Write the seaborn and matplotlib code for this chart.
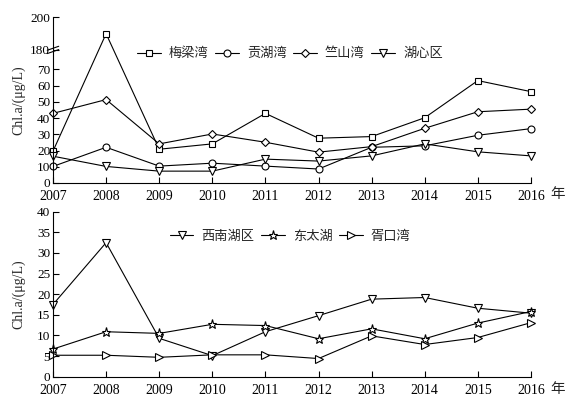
import numpy as np
import pandas as pd
import matplotlib
matplotlib.use("Agg")
import matplotlib.pyplot as plt
import seaborn as sns

# -----------------------------
# STYLE
# -----------------------------
sns.set_theme(style="ticks")
plt.rcParams['font.family'] = ['Liberation Serif', 'Noto Sans CJK SC']
plt.rcParams['font.size'] = 10
plt.rcParams['axes.unicode_minus'] = False

# -----------------------------
# DATA
# -----------------------------
years = list(range(2007, 2017))

meiliang = [19.6, 190, 20.8, 24.1, 42.9, 27.6, 28.6, 40.2, 63.1, 56.3]
gonghu = [10.2, 22.0, 10.4, 12.2, 10.4, 8.6, 22.0, 22.9, 29.4, 33.5]
zhushan = [42.9, 51.4, 24.1, 30.2, 25.1, 19.0, 22.4, 33.7, 43.9, 45.5]
huxin = [16.5, 10.2, 7.3, 7.3, 14.7, 13.5, 16.7, 24.1, 19.2, 16.7]

xinan = [17.5, 32.5, 9.3, 5.1, 10.9, 14.8, 18.8, 19.2, 16.6, 15.4]
dongtai = [6.7, 10.9, 10.5, 12.7, 12.4, 9.2, 11.6, 9.2, 13.0, 15.8]
xukou = [5.2, 5.2, 4.7, 5.3, 5.3, 4.4, 9.9, 7.8, 9.5, 13.1]

top_names = ["梅梁湾", "贡湖湾", "竺山湾", "湖心区"]
top_markers = ["s", "o", "D", "v"]
bot_names = ["西南湖区", "东太湖", "胥口湾"]
bot_markers = ["v", "*", ">"]

top_yticks = [0, 10, 20, 30, 40, 50, 60, 70, 180, 200]
bot_yticks = [0, 5, 10, 15, 20, 25, 30, 35, 40]


# broken axis: squeeze 70..180 into a short stretch
def fwd(y):
    y = np.asarray(y, dtype=float)
    return np.where(y <= 70, y,
                    np.where(y < 180, 70 + (y - 70) * 12 / 110, 82 + (y - 180)))


def inv(y):
    y = np.asarray(y, dtype=float)
    return np.where(y <= 70, y,
                    np.where(y < 82, 70 + (y - 70) * 110 / 12, 180 + (y - 82)))


def draw_panel(ax, names, series, markers):
    for name, vals, m in zip(names, series, markers):
        ms = {"*": 6.5, "D": 4.2, "s": 4.5, "o": 5}.get(m, 5.5)
        sns.lineplot(x=years, y=vals, ax=ax, color="black", linewidth=0.8,
                     marker=m, markersize=ms, markerfacecolor="white",
                     markeredgecolor="black", markeredgewidth=0.8,
                     label=name, clip_on=False)
    ax.set_xlim(2007, 2016)
    ax.set_xticks(years)
    ax.tick_params(direction="in", length=4, width=0.8, pad=2, colors="black")
    ax.tick_params(axis="x", pad=5, labelsize=10)
    ax.tick_params(axis="y", labelsize=9.5)
    for s in ["top", "right"]:
        ax.spines[s].set_visible(False)
    for s in ["left", "bottom"]:
        ax.spines[s].set_linewidth(0.8)
        ax.spines[s].set_color("black")
    ax.set_ylabel("Chl.a/(μg/L)", fontsize=10)
    ax.yaxis.set_label_coords(-0.058, 0.5)
    ax.set_xlabel("")


fig = plt.figure(figsize=(5.71, 3.99), dpi=100)
ax1 = fig.add_axes([0.0928, 0.5414, 0.837, 0.4148])
ax2 = fig.add_axes([0.0928, 0.0559, 0.837, 0.4135])

# top panel
draw_panel(ax1, top_names, [meiliang, gonghu, zhushan, huxin], top_markers)
ax1.set_yscale("function", functions=(fwd, inv))
ax1.set_ylim(0, 200)
ax1.set_yticks(top_yticks)
ax1.set_yticklabels([str(t) for t in top_yticks])
ax1.legend(ncol=4, frameon=False, loc="center", bbox_to_anchor=(0.496, 0.78),
           fontsize=9.5, handlelength=1.8, handletextpad=0.6, columnspacing=0.5,
           borderaxespad=0)

# break marks on the y axis at 180
yb = 82 / 102
for dy in (-0.01, 0.01):
    ax1.plot([-0.012, 0.012], [yb + dy - 0.012, yb + dy + 0.012],
             transform=ax1.transAxes, color="black", lw=0.8, clip_on=False)

# bottom panel
draw_panel(ax2, bot_names, [xinan, dongtai, xukou], bot_markers)
ax2.set_ylim(0, 40)
ax2.set_yticks(bot_yticks)
ax2.legend(ncol=3, frameon=False, loc="center", bbox_to_anchor=(0.496, 0.847),
           fontsize=9.5, handlelength=1.8, handletextpad=0.6, columnspacing=0.5,
           borderaxespad=0)

for ax, yy in ((ax1, -0.07), (ax2, -0.076)):
    ax.text(1.055, yy, "年", transform=ax.transAxes, ha="center", va="center",
            fontsize=10.5)

plt.savefig("out.png", dpi=100)
